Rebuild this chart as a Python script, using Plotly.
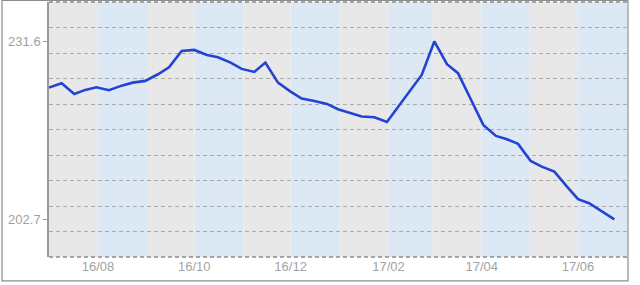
import plotly.graph_objects as go

dates = [
    "2016-07-01", "2016-07-09", "2016-07-17", "2016-07-24", "2016-07-31",
    "2016-08-08", "2016-08-16", "2016-08-23", "2016-08-31", "2016-09-08",
    "2016-09-15", "2016-09-23", "2016-10-01", "2016-10-09", "2016-10-16",
    "2016-10-24", "2016-10-31", "2016-11-08", "2016-11-15", "2016-11-23",
    "2016-12-01", "2016-12-08", "2016-12-16", "2016-12-24", "2016-12-31",
    "2017-01-08", "2017-01-15", "2017-01-23", "2017-01-31", "2017-02-22",
    "2017-03-02", "2017-03-10", "2017-03-17", "2017-03-25", "2017-04-02",
    "2017-04-10", "2017-04-17", "2017-04-24", "2017-05-02", "2017-05-09",
    "2017-05-17", "2017-05-25", "2017-06-01", "2017-06-08", "2017-06-16",
    "2017-06-24",
]
values = [
    224.10, 224.81, 223.08, 223.73, 224.16,
    223.68, 224.42, 224.91, 225.19, 226.27,
    227.41, 230.06, 230.22, 229.41, 229.03,
    228.16, 227.14, 226.65, 228.16, 224.91,
    223.45, 222.31, 221.94, 221.45, 220.59,
    219.99, 219.42, 219.29, 218.53, 226.16,
    231.60, 227.90, 226.44, 222.26, 218.04,
    216.26, 215.72, 214.96, 212.20, 211.27,
    210.46, 208.03, 205.98, 205.33, 204.08,
    202.70,
]

y_ticks = [202.7, 231.6]
y_tick_labels = ["202.7", "231.6"]
x_ticks = ["2016-08-01", "2016-10-01", "2016-12-01", "2017-02-01", "2017-04-01", "2017-06-01"]
x_tick_labels = ["16/08", "16/10", "16/12", "17/02", "17/04", "17/06"]
band_starts = [
    "2016-07-01", "2016-08-01", "2016-09-01", "2016-10-01", "2016-11-01", "2016-12-01",
    "2017-01-01", "2017-02-01", "2017-03-01", "2017-04-01", "2017-05-01", "2017-06-01",
    "2017-07-01",
]

Y_MIN, Y_MAX = 196.6, 238.0
X_MIN, X_MAX = "2016-07-01", "2017-07-02"

band_colors = ["#e9e8e8", "#dce9f4"]
shapes = []
for i in range(len(band_starts) - 1):
    x1 = band_starts[i + 1] if i + 1 < len(band_starts) - 1 else X_MAX
    shapes.append(dict(type="rect", xref="x", yref="paper", x0=band_starts[i], x1=x1,
                       y0=0, y1=1, fillcolor=band_colors[i % 2], line=dict(width=0),
                       layer="below"))
# top and bottom edge grid lines
for yy, col in [(1, "#8a8a8a"), (0, "#8a8a8a")]:
    shapes.append(dict(type="line", xref="paper", yref="paper", x0=0, x1=1, y0=yy, y1=yy,
                       line=dict(color=col, width=1.5, dash="4px,3px"), layer="above"))
# outer frame
shapes.append(dict(type="rect", xref="paper", yref="paper", x0=-0.0813, x1=1.0017,
                   y0=-0.094, y1=1.006, line=dict(color="#8c8c8c", width=1.2),
                   fillcolor="rgba(0,0,0,0)", layer="above"))

fig = go.Figure()
fig.add_trace(go.Scatter(x=dates, y=values, mode="lines",
                         line=dict(color="#2343d3", width=2.6), hoverinfo="skip"))
# invisible trace to activate the grid axis
fig.add_trace(go.Scatter(x=[dates[0]], y=[values[0]], yaxis="y2", mode="markers",
                         marker=dict(opacity=0), hoverinfo="skip"))

fig.update_layout(
    width=640, height=285,
    margin=dict(l=49, r=13, t=2, b=28),
    paper_bgcolor="white",
    plot_bgcolor="white",
    showlegend=False,
    font=dict(family="Liberation Sans, Arial, sans-serif", size=13, color="#a0a0a0"),
    shapes=shapes,
    xaxis=dict(
        range=[X_MIN, X_MAX], type="date",
        tickvals=x_ticks, ticktext=x_tick_labels,
        showgrid=False, zeroline=False, ticks="", showline=False,
        tickfont=dict(size=13, color="#a3a3a3"),
    ),
    yaxis=dict(
        range=[Y_MIN, Y_MAX], tickvals=y_ticks, ticktext=y_tick_labels,
        showgrid=False, zeroline=False, ticks="outside", ticklen=4, tickcolor="#999999",
        showline=True, linecolor="#9a9a9a", linewidth=1.5,
        tickfont=dict(size=13, color="#a0a0a0"),
    ),
    yaxis2=dict(
        range=[Y_MIN, Y_MAX], overlaying="y", side="left",
        tick0=Y_MIN, dtick=(Y_MAX - Y_MIN) / 10,
        showgrid=True, gridcolor="#ababab", griddash="4px,3px", gridwidth=1,
        showticklabels=False, ticks="", zeroline=False, showline=False,
    ),
)

fig.write_html("out.html")
